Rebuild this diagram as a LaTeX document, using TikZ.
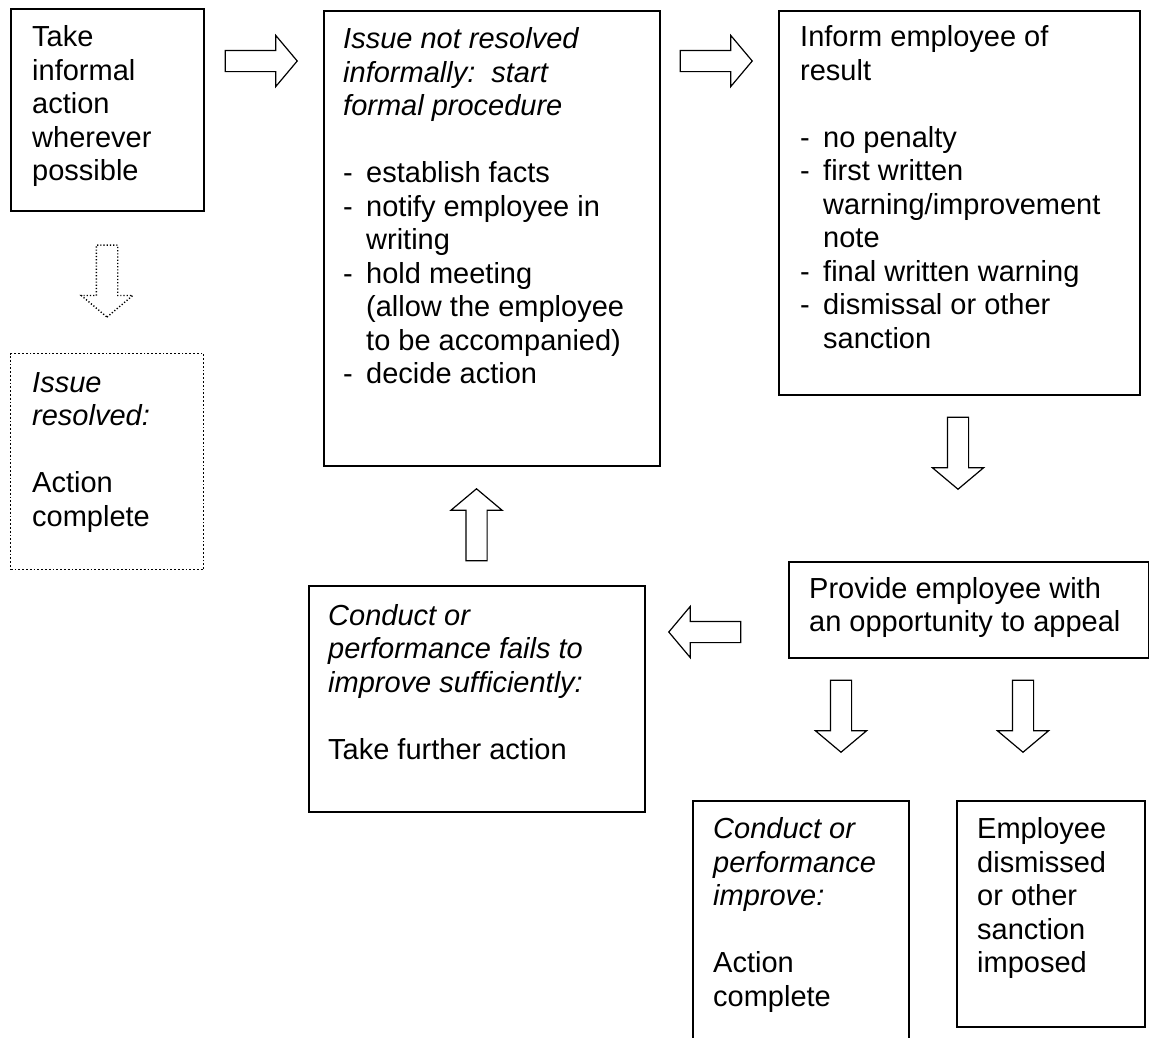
\documentclass[tikz,border=0pt]{standalone}
\usepackage{fontspec}
\setmainfont{Liberation Sans}
\usetikzlibrary{shapes.arrows}
\newcommand{\fs}{\fontsize{29}{33.5}\selectfont}
\newcommand{\itm}[1]{\makebox[23pt][l]{-}#1}
\newcommand{\cnt}[1]{\hspace*{23pt}#1}
\begin{document}
\begin{tikzpicture}[x=1pt,y=-1pt,
  box/.style={draw, line width=1.8pt, inner sep=0pt, anchor=north west},
  dotbox/.style={box, dotted, line width=1.4pt},
  txt/.style={anchor=north west, inner sep=0pt, align=left, font=\fs},
  arr/.style={single arrow, draw, line width=1.2pt, fill=white, inner xsep=0pt, inner ysep=10pt,
    minimum height=72pt, minimum width=50pt, single arrow head extend=15pt,
    single arrow tip angle=100, anchor=tip},
  dotarr/.style={arr, dotted, line width=1.4pt}
]
\useasboundingbox (0,0) rectangle (1149,1037);

% boxes
\node[box, minimum width=193pt, minimum height=202pt] (b1) at (10,8) {};
\node[box, minimum width=336pt, minimum height=455pt] (b2) at (323,10) {};
\node[box, minimum width=361pt, minimum height=384pt] (b3) at (778,10) {};
\node[dotbox, minimum width=193pt, minimum height=216pt] (bres) at (10,353) {};
\node[box, minimum width=336pt, minimum height=226pt] (bfail) at (308,585) {};
\node[box, minimum width=360pt, minimum height=96pt] (bapp) at (788,561) {};
\node[box, minimum width=216pt, minimum height=270pt] (bimp) at (692,800) {};
\node[box, minimum width=188pt, minimum height=226pt] (bdis) at (956,800) {};

% texts
\node[txt] (t1) at (32,23.05) {\strut Take\\informal\\action\\wherever\\possible};
\node[txt] (t2) at (343,24.85) {\strut\textit{Issue not resolved}\\\textit{informally:\ \ start}\\\textit{formal procedure}\\[33.5pt]
  \itm{establish facts}\\\itm{notify employee in}\\\cnt{writing}\\\itm{hold meeting}\\\cnt{(allow the employee}\\\cnt{to be accompanied)}\\\itm{decide action}};
\node[txt] (t3) at (800,23.25) {\strut Inform employee of\\result\\[33.5pt]
  \itm{no penalty}\\\itm{first written}\\\cnt{warning/improvement}\\\cnt{note}\\\itm{final written warning}\\\itm{dismissal or other}\\\cnt{sanction}};
\node[txt] (tres) at (32,368.5) {\strut\textit{Issue}\\\textit{resolved:}\\[33.5pt]Action\\complete};
\node[txt] (tfail) at (328,601.5) {\strut\textit{Conduct or}\\\textit{performance fails to}\\\textit{improve sufficiently:}\\[33.5pt]Take further action};
\node[txt] (tapp) at (809,574.5) {\strut Provide employee with\\an opportunity to appeal};
\node[txt] (timp) at (713,815) {\strut\textit{Conduct or}\\\textit{performance}\\\textit{improve:}\\[33.5pt]Action\\complete};
\node[txt] (tdis) at (977,815) {\strut Employee\\dismissed\\or other\\sanction\\imposed};

% block arrows
\node[arr] (a12) at (298,61) {};
\node[arr] (a23) at (753,61) {};
\node[dotarr, rotate=-90] (a1res) at (107,318) {};
\node[arr, rotate=-90] (a3app) at (958,490) {};
\node[arr, rotate=180] (aappfail) at (668,632) {};
\node[arr, rotate=90] (afail2) at (476.5,488) {};
\node[arr, rotate=-90] (aappimp) at (841,753) {};
\node[arr, rotate=-90] (aappdis) at (1023,753) {};
\end{tikzpicture}
\end{document}
